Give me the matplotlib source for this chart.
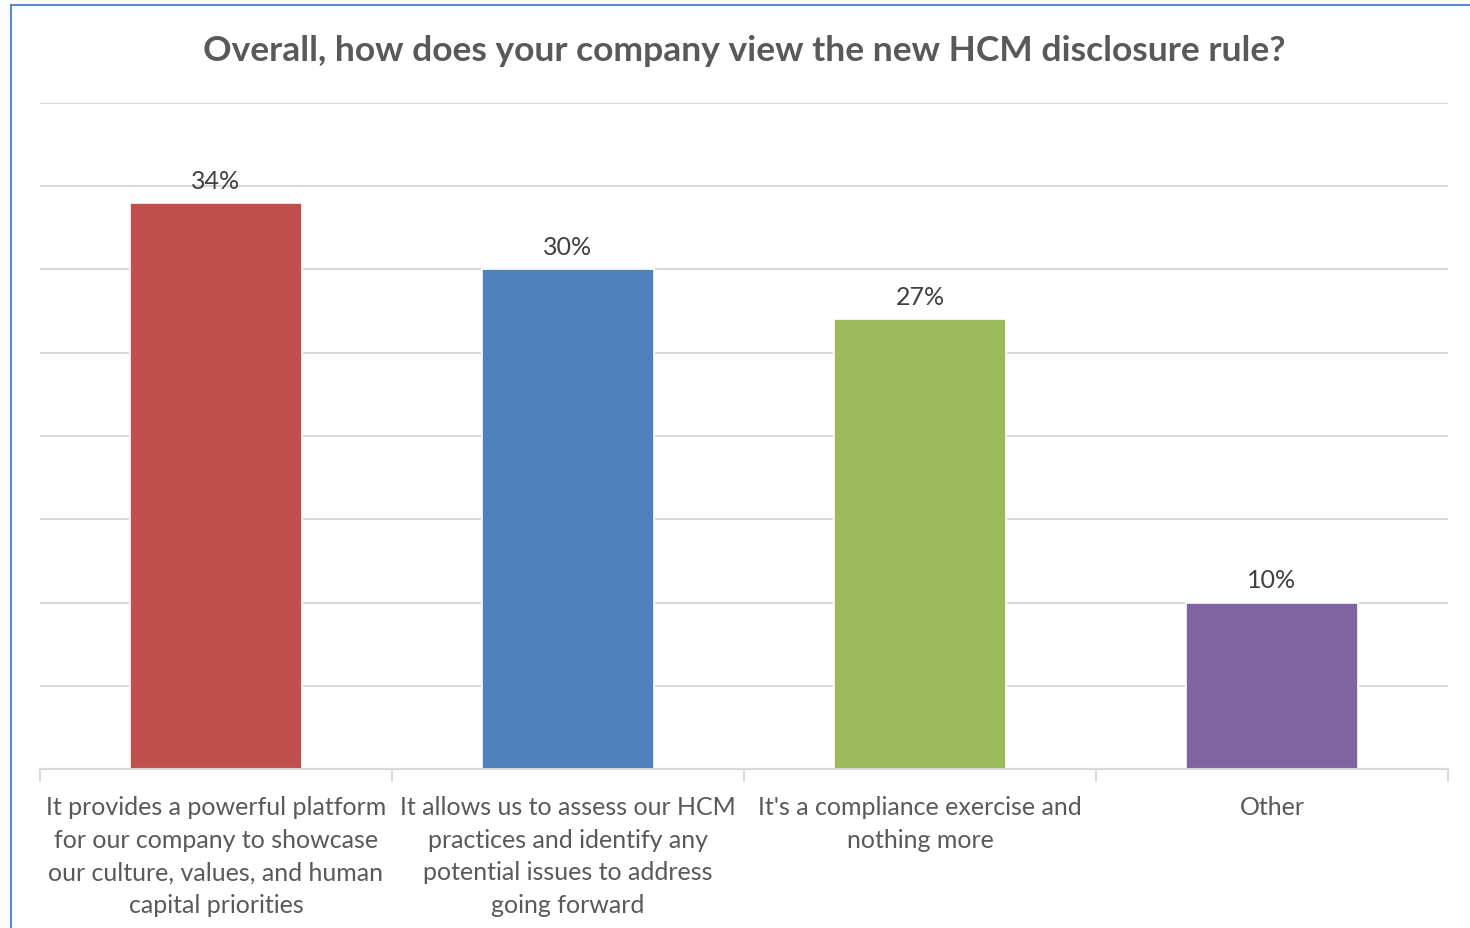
import matplotlib
matplotlib.use("Agg")
import matplotlib.pyplot as plt
from matplotlib.lines import Line2D

plt.rcParams['font.family'] = ['Lato', 'DejaVu Sans']

categories = [
    "It provides a powerful platform\nfor our company to showcase\nour culture, values, and human\ncapital priorities",
    "It allows us to assess our HCM\npractices and identify any\npotential issues to address\ngoing forward",
    "It's a compliance exercise and\nnothing more",
    "Other",
]
values = [34, 30, 27, 10]
colors = ["#C0504D", "#4F81BD", "#9BBB59", "#8064A2"]
title = "Overall, how does your company view the new HCM disclosure rule?"

W, H = 1470, 929
fig = plt.figure(figsize=(W / 100, H / 100), dpi=100)
ax = fig.add_axes([40 / W, 1 - 770 / H, 1408 / W, 666 / H])

x = list(range(len(values)))
bars = ax.bar(x, values, width=0.486, color=colors, edgecolor="white",
              linewidth=1.2, zorder=3)

ax.set_xlim(-0.5, len(values) - 0.5)
ax.set_ylim(0, 40)
ax.set_yticks(range(0, 41, 5))
ax.yaxis.grid(True, color="#d9d9d9", linewidth=1.5, zorder=0)
ax.set_axisbelow(True)
ax.tick_params(axis="y", left=False, labelleft=False)

for s in ["top", "right", "left"]:
    ax.spines[s].set_visible(False)
ax.spines["bottom"].set_color("#d9d9d9")
ax.spines["bottom"].set_linewidth(1.5)
ax.spines["bottom"].set_zorder(4)

# category boundary ticks and centred labels
ax.set_xticks([i - 0.5 for i in range(len(values) + 1)])
ax.set_xticklabels([])
ax.tick_params(axis="x", which="major", length=9, width=1.5, color="#d9d9d9")
ax.set_xticks(x, minor=True)
ax.set_xticklabels(categories, minor=True, fontsize=18, color="#595959",
                   linespacing=1.5)
ax.tick_params(axis="x", which="minor", length=0, pad=19)

for b, v in zip(bars, values):
    ax.annotate(f"{v}%", (b.get_x() + b.get_width() / 2, v),
                xytext=(0, 8), textcoords="offset points",
                ha="center", va="bottom", fontsize=18, color="#404040")

fig.text((40 + 1448) / 2 / W, 1 - 51 / H, title, ha="center", va="center",
         fontsize=25.5, fontweight="bold", color="#595959")

# chart frame edges
fig.add_artist(Line2D([10.5 / W, 10.5 / W], [0, 1 - 5.5 / H],
                      transform=fig.transFigure, color="#5B8BD0", linewidth=1.5))
fig.add_artist(Line2D([10.5 / W, 1], [1 - 5.5 / H, 1 - 5.5 / H],
                      transform=fig.transFigure, color="#5B8BD0", linewidth=1.5))

fig.savefig("out.png", dpi=100, facecolor="white")
